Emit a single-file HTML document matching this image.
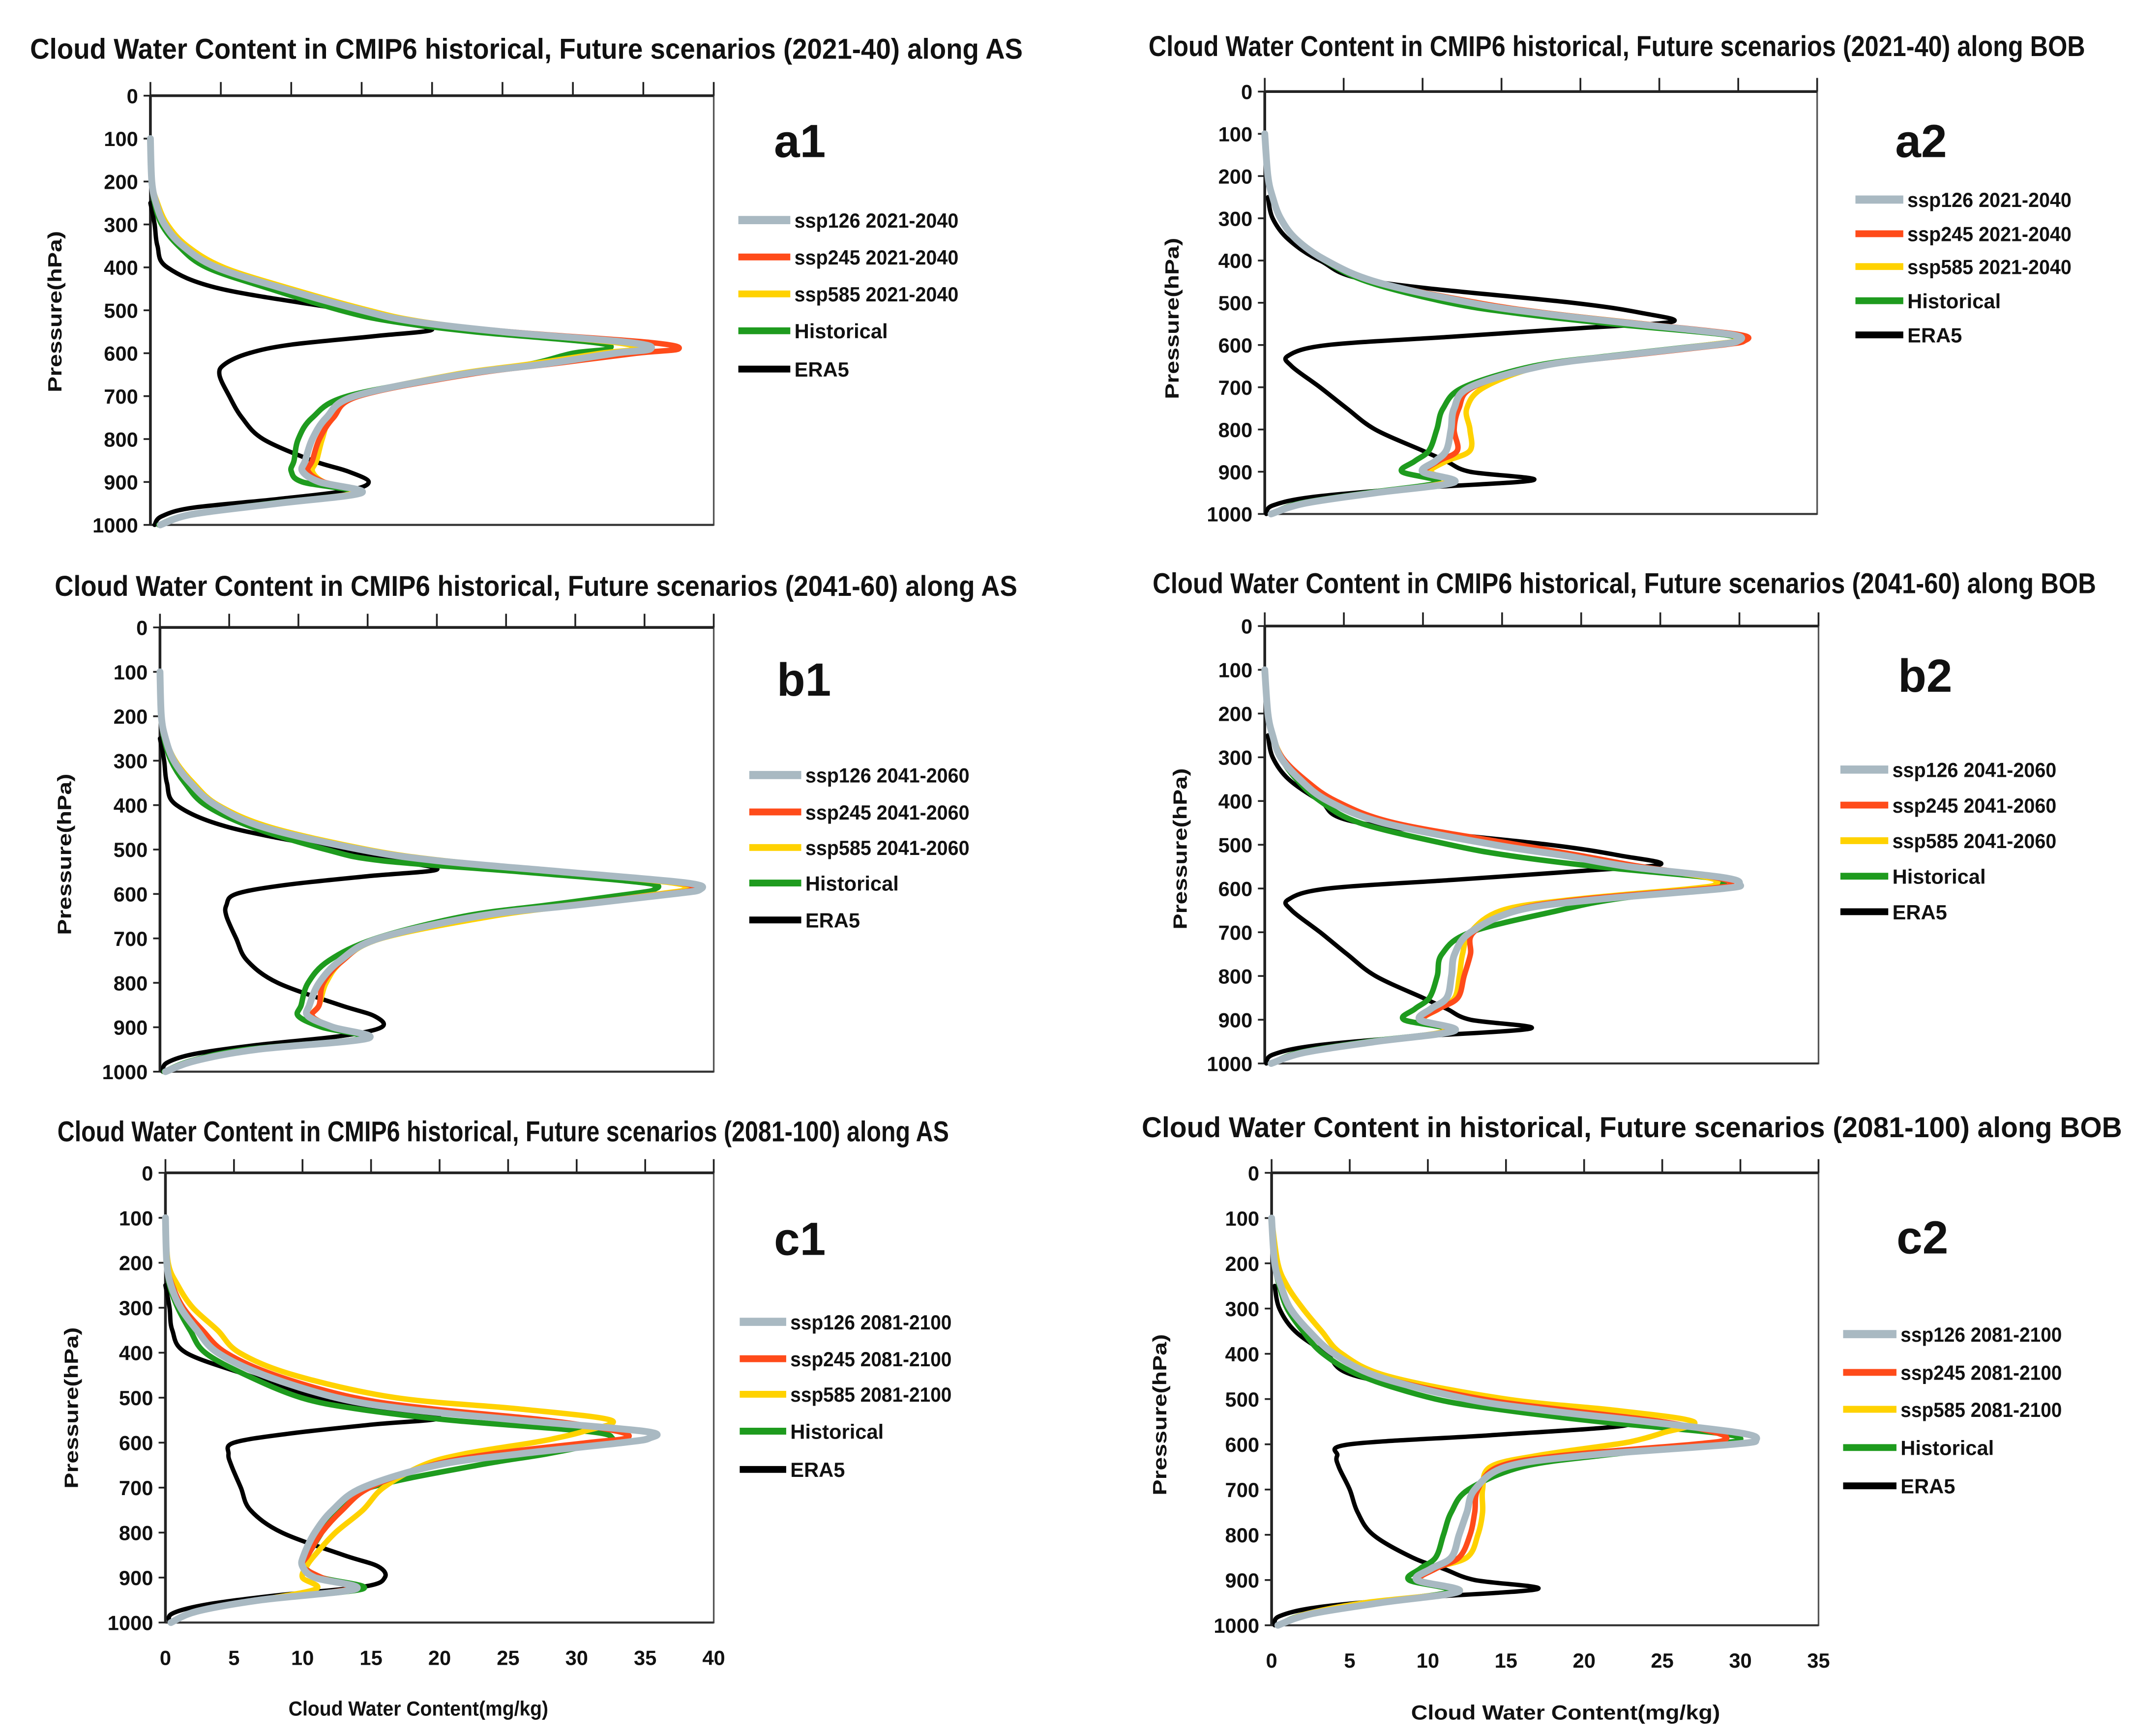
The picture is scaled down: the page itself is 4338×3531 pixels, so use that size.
<!DOCTYPE html>
<html><head><meta charset="utf-8"><title>Cloud Water Content profiles</title>
<style>
html,body{margin:0;padding:0;background:#fff;}
svg{display:block;}
text{font-family:"Liberation Sans",sans-serif;font-weight:bold;fill:#111;}
</style></head>
<body>
<svg id="fig" xmlns="http://www.w3.org/2000/svg" width="4338" height="3531" viewBox="0 0 1560 1270" preserveAspectRatio="none"></svg>
<script>
// ---- data ----
const LEVELS = [100,200,250,300,350,400,450,500,525,550,575,590,600,625,650,700,750,800,850,875,900,925,950,975,1000];
const ERA_LEVELS = [250,300,350,400,450,500,525,545,560,580,600,625,650,700,750,800,850,875,900,920,940,960,980,1000];
const XTICKS_AS = [0,5,10,15,20,25,30,35,40];
const XTICKS_BOB = [0,5,10,15,20,25,30,35];
const YTICKS = [0,100,200,300,400,500,600,700,800,900,1000];

// a1
const a1Hist   = [0,0.1,0.3,0.8,2,4,8.5,13.5,17,23,31.5,32.5,30,27,22,14,11.5,10.5,10.2,10,10.8,14.5,8.5,2.8,0.6];
const a1Ssp126 = [0,0.1,0.4,1,2.3,4.7,9.5,15,18.5,25,34,35.5,33,28,22,14.5,12.5,11.5,11,10.8,12,15,9,3,0.7];
const a1Ssp245 = [0,0.1,0.4,1,2.3,4.7,9.5,15,18.5,25.5,35.5,37.5,34.5,28.5,22.5,14.8,13,12,11.5,11.2,12.3,15,9.2,3,0.7];
const a1Ssp585 = [0,0.1,0.5,1.2,2.6,5.2,10,15.5,19,25,33,34.5,32,27,21.5,14.5,12.8,12.2,11.8,11.5,12.3,14.5,9,3,0.7];
const a1Era5   = [0,0.3,0.5,1.2,5,14,17,20,16,10,7,5.3,4.9,5.6,6.5,8,11.5,14,15.5,14,9,3,0.8,0.3];
// a2
const a2Hist   = [0,0.2,0.5,1,2,3.8,6.5,11.7,16,22,29,29.8,28,22,17,12.6,11.3,10.9,10.4,9.5,8.7,11,6.5,2.2,0.4];
const a2Ssp126 = [0,0.2,0.5,1,2,3.9,7,13,17.5,23.5,29.5,30,28.5,22.5,17.5,13,12,11.8,11.5,10.8,10,12,7,2.5,0.4];
const a2Ssp245 = [0,0.2,0.5,1,2,3.9,7,13.5,18,24,30,30.4,29,23,17.5,13.2,12.3,12,12.2,11,10.2,11.8,7,2.5,0.4];
const a2Ssp585 = [0,0.2,0.5,1,2,3.9,7,13.5,18,24,29.5,29.8,28,22.5,17.5,13.9,12.8,13,13,11.5,10.5,11.5,7,2.5,0.4];
const a2Era5   = [0.2,0.5,1.5,3.5,7,19.5,24,25.8,20,12,4,1.5,1.7,3.5,5.2,7,10,11.5,13,17,9,3,0.5,0.1];
// b1
const b1Hist   = [0,0.1,0.3,0.8,1.8,3.3,6.7,12,16,26,35,35.7,34,28,22,15.6,12.2,10.7,10.2,10,11.7,14.6,6.2,2.3,0.3];
const b1Ssp126 = [0,0.1,0.4,1,2.2,4,7.5,14.5,20,29,38,39,37,30,23,15.8,13,11.5,10.8,10.7,12.5,15,7,2.6,0.4];
const b1Ssp245 = [0,0.1,0.4,1,2.2,4,7.5,14.5,20,29,37.5,38.4,36.5,29.5,23,15.8,13.2,11.8,11.5,11,12.5,15,7,2.6,0.4];
const b1Ssp585 = [0,0.1,0.4,1.1,2.4,4.2,8,15,20.5,29,37,37.9,36,30,24,16,13.2,12,11.5,11,12.5,14.8,7,2.6,0.4];
const b1Era5   = [0,0.3,0.5,1.2,5,13,17,20,15,9,5.5,4.8,4.8,5.5,6.3,8.5,13,15.5,16,13,7,2.5,0.5,0.2];
// b2
const b2Hist   = [0,0.2,0.5,1,2,3.5,6,11.7,15.5,21,28,29,27.5,22,18.6,13,11.2,10.9,10.4,9.5,8.8,11.7,6.5,2.2,0.4];
const b2Ssp126 = [0,0.2,0.5,1,2.2,4,7.5,14.5,19,23,29,30,29,21,16,13,12,11.8,11.5,10.5,9.8,12,7,2.5,0.4];
const b2Ssp245 = [0,0.2,0.5,1.1,2.5,4.5,8.2,16,20,23.8,28.5,29.5,28,20,15.8,13.2,13,12.6,12.2,11,10,11.7,7,2.5,0.4];
const b2Ssp585 = [0,0.2,0.5,1.1,2.3,4.2,7.8,15,19.5,23.5,28,28.5,27,19.5,15,13,12.5,12.3,12,11,10,11.5,7,2.5,0.4];
const b2Era5   = [0.2,0.5,1.5,3.5,6,18,22.5,25,20,12,4,1.5,1.7,3.5,5.2,7,10,11.5,13,16.8,9,3,0.5,0.1];
// c1
const c1Hist   = [0,0.1,0.3,0.9,1.8,2.9,5.9,9.9,14,20.8,30.8,32.6,31.8,27.8,22.8,14.9,12.4,11.4,10.4,10.1,11.4,14.4,6.9,2.3,0.4];
const c1Ssp126 = [0,0.1,0.4,1.1,2.3,3.8,7.2,12.5,17.5,25.8,35,35.3,33.3,25.8,19.8,14.4,12.2,10.9,10.1,10,10.9,13.9,6.9,2.3,0.4];
const c1Ssp245 = [0,0.1,0.5,1.3,2.7,4.4,8,13.8,19.5,27.8,33,33.6,30.8,23.8,19.4,14.9,12.9,11.4,10.4,10,11.4,13.4,6.9,2.3,0.4];
const c1Ssp585 = [0,0.2,0.9,2,3.8,5.4,9.4,16.8,25.8,32.5,30.5,28.5,26.8,21.8,18.8,15.9,14.4,12.4,10.9,10.3,10,11,6.9,2.3,0.4];
const c1Era5   = [0,0.3,0.5,1.5,6,11,15,20,15,9,5,4.6,4.8,5.5,6.2,8.5,13,15.5,16,14.5,8,3,0.5,0.3];
// c2
const c2Hist   = [0,0.2,0.5,1,2,3.3,5.8,10.5,15,21,28.5,30,28,21,16,12.6,11.5,11,10.5,9.5,8.8,11.5,6.5,2.2,0.4];
const c2Ssp126 = [0,0.2,0.6,1.2,2.4,4,6.8,12.5,17.5,24,30,31,29.5,20,15,13,12.5,12,11.5,10.2,9.3,12,7,2.5,0.4];
const c2Ssp245 = [0,0.2,0.6,1.2,2.4,4,6.8,13.5,19,25,28.5,29,27,18.5,14.5,13.2,13,12.7,12,10.5,9.5,11.8,7,2.5,0.4];
const c2Ssp585 = [0,0.4,1,2,3.2,4.5,7.5,15,22,27,25,23.5,22,17,14,13.5,13.5,13.2,12.5,10.3,9.5,12,6,2.2,0.4];
const c2Era5   = [0.2,0.5,1.5,3.5,5.5,14,20,22,22.3,14,5,4.2,4.3,5,5.5,6.5,9,11,13,17,9,3,0.5,0.2];

// ---- layout (not data) ----
const COLORS = {ssp126:'#a9b9c2', ssp245:'#ff4b1a', ssp585:'#ffd200', hist:'#1e9b1e', era5:'#000000'};
const WIDTHS = {ssp126:5, ssp245:4, ssp585:4, hist:4, era5:3.2};
const panels = [
 {id:'a1', title:'Cloud Water Content in CMIP6 historical, Future scenarios (2021-40) along AS', tx:22, ty:43, tw:726,
  L:110, R:522, T:70, B:384, xmax:40, ticks:XTICKS_AS, xlabels:false, letter:[585,115], ytitle:[45,228],
  lx:540, ltx:581, ly:[161,188,215,242,270], period:'2021-2040',
  data:{hist:a1Hist, ssp126:a1Ssp126, ssp245:a1Ssp245, ssp585:a1Ssp585, era5:a1Era5}},
 {id:'a2', title:'Cloud Water Content in CMIP6 historical, Future scenarios (2021-40) along BOB', tx:840, ty:41, tw:685,
  L:925, R:1329, T:67, B:376, xmax:35, ticks:XTICKS_BOB, xlabels:false, letter:[1405,115], ytitle:[862,233],
  lx:1357, ltx:1395, ly:[146,171,195,220,245], period:'2021-2040',
  data:{hist:a2Hist, ssp126:a2Ssp126, ssp245:a2Ssp245, ssp585:a2Ssp585, era5:a2Era5}},
 {id:'b1', title:'Cloud Water Content in CMIP6 historical, Future scenarios (2041-60) along AS', tx:40, ty:436, tw:704,
  L:117, R:522, T:459, B:784, xmax:40, ticks:XTICKS_AS, xlabels:false, letter:[588,509], ytitle:[52,625],
  lx:548, ltx:589, ly:[567,594,620,646,673], period:'2041-2060',
  data:{hist:b1Hist, ssp126:b1Ssp126, ssp245:b1Ssp245, ssp585:b1Ssp585, era5:b1Era5}},
 {id:'b2', title:'Cloud Water Content in CMIP6 historical, Future scenarios (2041-60) along BOB', tx:843, ty:434, tw:690,
  L:925, R:1330, T:458, B:778, xmax:35, ticks:XTICKS_BOB, xlabels:false, letter:[1408,506], ytitle:[868,621],
  lx:1346, ltx:1384, ly:[563,589,615,641,667], period:'2041-2060',
  data:{hist:b2Hist, ssp126:b2Ssp126, ssp245:b2Ssp245, ssp585:b2Ssp585, era5:b2Era5}},
 {id:'c1', title:'Cloud Water Content in CMIP6 historical, Future scenarios  (2081-100) along AS', tx:42, ty:835, tw:652,
  L:121, R:522, T:858, B:1187, xmax:40, ticks:XTICKS_AS, xlabels:true, letter:[585,918], ytitle:[57,1030],
  lx:541, ltx:578, ly:[967,994,1020,1047,1075], period:'2081-2100', xtitle:[306,1255,190],
  data:{hist:c1Hist, ssp126:c1Ssp126, ssp245:c1Ssp245, ssp585:c1Ssp585, era5:c1Era5}},
 {id:'c2', title:'Cloud Water Content in historical, Future scenarios (2081-100) along BOB', tx:835, ty:832, tw:717,
  L:930, R:1330, T:858, B:1189, xmax:35, ticks:XTICKS_BOB, xlabels:true, letter:[1406,917], ytitle:[853,1035],
  lx:1348, ltx:1390, ly:[976,1004,1031,1059,1087], period:'2081-2100', xtitle:[1145,1258,226],
  data:{hist:c2Hist, ssp126:c2Ssp126, ssp245:c2Ssp245, ssp585:c2Ssp585, era5:c2Era5}}
];

const NS='http://www.w3.org/2000/svg';
const svg=document.getElementById('fig');
function mk(tag, parent, attrs){const e=document.createElementNS(NS,tag);for(const k in attrs)e.setAttribute(k,attrs[k]);parent.appendChild(e);return e;}

function smoothPath(pts){
  let d='M'+pts[0][0].toFixed(2)+','+pts[0][1].toFixed(2);
  for(let i=0;i<pts.length-1;i++){
    const p0=pts[Math.max(0,i-1)],p1=pts[i],p2=pts[i+1],p3=pts[Math.min(pts.length-1,i+2)];
    const c1x=p1[0]+(p2[0]-p0[0])/6,c1y=p1[1]+(p2[1]-p0[1])/6;
    const c2x=p2[0]-(p3[0]-p1[0])/6,c2y=p2[1]-(p3[1]-p1[1])/6;
    d+=' C'+c1x.toFixed(2)+','+c1y.toFixed(2)+' '+c2x.toFixed(2)+','+c2y.toFixed(2)+' '+p2[0].toFixed(2)+','+p2[1].toFixed(2);
  }
  return d;
}

const LEGEND = [['ssp126','ssp126 '],['ssp245','ssp245 '],['ssp585','ssp585 '],['hist','Historical'],['era5','ERA5']];
const DRAW_ORDER = ['era5','hist','ssp585','ssp245','ssp126'];

panels.forEach(P=>{
  const g=mk('g',svg,{});
  
  
  const xs=v=>P.L+v/P.xmax*(P.R-P.L);
  const ys=p=>P.T+p/1000*(P.B-P.T);

  const t=mk('text',g,{x:P.tx,y:P.ty,'font-size':21,textLength:P.tw,lengthAdjust:'spacingAndGlyphs'});
  t.textContent=P.title;
  
  

  // frame
  const fr=mk('rect',g,{x:P.L,y:P.T,width:P.R-P.L,height:P.B-P.T,fill:'none',stroke:'#555','stroke-width':1.2});
  
  
  mk('line',g,{x1:P.L,y1:P.T,x2:P.R,y2:P.T,stroke:'#222','stroke-width':2});
  mk('line',g,{x1:P.L,y1:P.T,x2:P.L,y2:P.B,stroke:'#222','stroke-width':2});
  mk('line',g,{x1:P.L,y1:P.B,x2:P.R,y2:P.B,stroke:'#333','stroke-width':1.5});

  // x ticks (top, upward)
  P.ticks.forEach(v=>{
    const tk=mk('line',g,{x1:xs(v),y1:P.T,x2:xs(v),y2:P.T-10,stroke:'#222','stroke-width':1.3});
    
    
    if(P.xlabels){
      const tl=mk('text',g,{x:xs(v),y:P.B+31,'font-size':15,'text-anchor':'middle'});
      tl.textContent=v;
      
      
    }
  });
  // y ticks
  YTICKS.forEach(v=>{
    mk('line',g,{x1:P.L-5,y1:ys(v),x2:P.L,y2:ys(v),stroke:'#222','stroke-width':1.3});
    const yl=mk('text',g,{x:P.L-9,y:ys(v)+5.5,'font-size':15,'text-anchor':'end'});
    yl.textContent=v;
    
    
  });
  const yt=mk('text',g,{x:P.ytitle[0],y:P.ytitle[1],'font-size':14,'text-anchor':'middle',transform:'rotate(-90 '+P.ytitle[0]+' '+P.ytitle[1]+')',textLength:118,lengthAdjust:'spacingAndGlyphs'});
  yt.textContent='Pressure(hPa)';
  
  
  if(P.xtitle){
    const xt=mk('text',g,{x:P.xtitle[0],y:P.xtitle[1],'font-size':15,'text-anchor':'middle',textLength:P.xtitle[2],lengthAdjust:'spacingAndGlyphs'});
    xt.textContent='Cloud Water Content(mg/kg)';
    
    
  }

  // series
  DRAW_ORDER.forEach(k=>{
    const vals=P.data[k];
    const lev=(k==='era5')?ERA_LEVELS:LEVELS;
    const pts=vals.map((v,i)=>[xs(v),ys(lev[i])]);
    const path=mk('path',g,{d:smoothPath(pts),fill:'none',stroke:COLORS[k],'stroke-width':WIDTHS[k],'stroke-linejoin':'round','stroke-linecap':'round'});
    
    
  });

  // panel letter
  const lt=mk('text',g,{x:P.letter[0],y:P.letter[1],'font-size':34,'text-anchor':'middle'});
  lt.textContent=P.id;
  
  

  // legend
  LEGEND.forEach((e,i)=>{
    const k=e[0];
    const y=P.ly[i];
    const ln=mk('line',g,{x1:P.lx,y1:y,x2:P.ltx-3,y2:y,stroke:COLORS[k],'stroke-width':k==='ssp126'?6:5});
    
    
    const label=e[1]+(k.startsWith('ssp')?P.period:'');
    const attrs={x:P.ltx,y:y+5.5,'font-size':15};
    if(k.startsWith('ssp')){attrs.textLength=P.id[0]==='c'?118:120;attrs.lengthAdjust='spacingAndGlyphs';}
    const tx=mk('text',g,attrs);
    tx.textContent=label;
    
    
  });
});
</script>
</body></html>
